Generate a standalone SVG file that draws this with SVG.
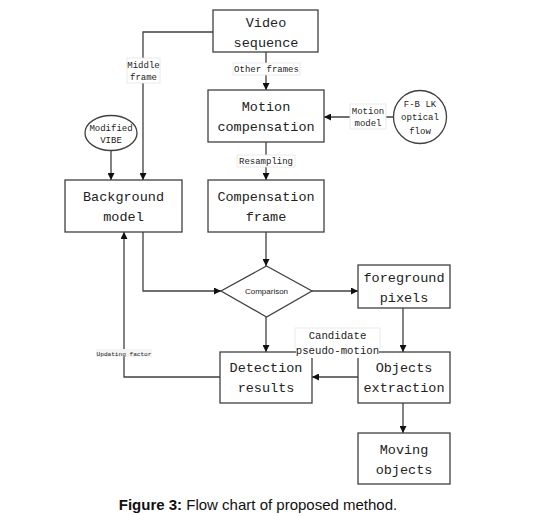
<svg xmlns="http://www.w3.org/2000/svg" width="533" height="516" viewBox="0 0 533 516">
<defs>
<style>
.box{fill:#fff;stroke:#404040;stroke-width:1.3}
.ln{fill:none;stroke:#404040;stroke-width:1.3}
.t{font-family:"Liberation Mono",monospace;font-size:13.5px;fill:#222;text-anchor:middle}
.s{font-family:"Liberation Mono",monospace;font-size:9px;fill:#222;text-anchor:middle}
.lb{fill:#fff;stroke:#e4e4e4;stroke-width:0.8}
</style>
<marker id="ah" viewBox="0 0 10 10" refX="10" refY="5" markerWidth="7" markerHeight="7" markerUnits="userSpaceOnUse" orient="auto">
<path d="M0,0 L10,5 L0,10 z" fill="#111"/>
</marker>
</defs>
<rect width="533" height="516" fill="#fff"/>
<g id="connectors">
<path class="ln" d="M213,32 H143 V180" marker-end="url(#ah)"/>
<path class="ln" d="M266,52 V90" marker-end="url(#ah)"/>
<path class="ln" d="M393,117 H324" marker-end="url(#ah)"/>
<path class="ln" d="M111,151 V180" marker-end="url(#ah)"/>
<path class="ln" d="M266,142 V180" marker-end="url(#ah)"/>
<path class="ln" d="M143,232 V291 H221" marker-end="url(#ah)"/>
<path class="ln" d="M266,232 V266" marker-end="url(#ah)"/>
<path class="ln" d="M312,291 H358" marker-end="url(#ah)"/>
<path class="ln" d="M266,317 V352" marker-end="url(#ah)"/>
<path class="ln" d="M403,308 V352" marker-end="url(#ah)"/>
<path class="ln" d="M358,377 H312" marker-end="url(#ah)"/>
<path class="ln" d="M220,377 H124 V232" marker-end="url(#ah)"/>
<path class="ln" d="M403,403 V433" marker-end="url(#ah)"/>
<rect class="lb" x="127" y="58" width="33" height="25"/>
<text class="s" x="143.5" y="68">Middle</text>
<text class="s" x="143.5" y="80">frame</text>
<rect class="lb" x="233" y="63" width="67" height="12"/>
<text class="s" x="266.5" y="72">Other frames</text>
<rect class="lb" x="237" y="155" width="58" height="12"/>
<text class="s" x="266" y="164">Resampling</text>
<rect class="lb" x="350" y="104" width="36" height="25"/>
<text class="s" x="368" y="114">Motion</text>
<text class="s" x="368" y="126">model</text>
<rect x="96" y="349" width="56" height="8" fill="#f4f4f4"/>
<text x="124" y="355.5" font-family="Liberation Mono,monospace" font-size="6.1px" text-anchor="middle" fill="#222">Updating factor</text>
</g>
<g id="video"><rect class="box" x="213" y="10" width="105" height="42"/><text class="t" x="266" y="27">Video</text><text class="t" x="266" y="47">sequence</text></g>
<g id="motion"><rect class="box" x="208" y="90" width="116" height="52"/><text class="t" x="266" y="111">Motion</text><text class="t" x="266" y="131">compensation</text></g>
<g id="fblk"><circle class="box" cx="420" cy="117" r="26.5"/><text class="s" x="420" y="106.5">F-B LK</text><text class="s" x="420" y="120">optical</text><text class="s" x="420" y="133.5">flow</text></g>
<g id="vibe"><ellipse class="box" cx="111" cy="133" rx="26" ry="17.5"/><text class="s" x="111" y="131">Modified</text><text class="s" x="111" y="142.5">VIBE</text></g>
<g id="bg"><rect class="box" x="65" y="180" width="117" height="52"/><text class="t" x="123.5" y="201">Background</text><text class="t" x="123.5" y="221">model</text></g>
<g id="compframe"><rect class="box" x="208" y="180" width="116" height="52"/><text class="t" x="266" y="201">Compensation</text><text class="t" x="266" y="221">frame</text></g>
<g id="comparison"><polygon class="box" points="266.5,266 312,291 266.5,317 221,291"/><text x="266.5" y="294" font-family="Liberation Sans,Arial,sans-serif" font-size="8px" text-anchor="middle" fill="#222">Comparison</text></g>
<g id="fg"><rect class="box" x="358" y="265" width="92" height="43"/><text class="t" x="404" y="282">foreground</text><text class="t" x="404" y="302">pixels</text></g>
<g id="detect"><rect class="box" x="220" y="352" width="92" height="51"/><text class="t" x="266" y="372">Detection</text><text class="t" x="266" y="392">results</text></g>
<g id="objex"><rect class="box" x="358" y="352" width="92" height="51"/><text class="t" x="404" y="372">Objects</text><text class="t" x="404" y="392">extraction</text></g>
<g id="moving"><rect class="box" x="358" y="433" width="92" height="51"/><text class="t" x="404" y="454">Moving</text><text class="t" x="404" y="474">objects</text></g>
<g id="candidate"><rect class="lb" x="295" y="328" width="85" height="20"/><rect x="296" y="347" width="83" height="11" fill="#fff"/><text x="337.5" y="339" font-family="Liberation Mono,monospace" font-size="10.7px" text-anchor="middle" fill="#222">Candidate</text><text x="337.5" y="354" font-family="Liberation Mono,monospace" font-size="10.7px" text-anchor="middle" fill="#222">pseudo-motion</text></g>
<text x="258" y="510" font-family="Liberation Sans,Arial,sans-serif" font-size="15px" text-anchor="middle" fill="#111"><tspan font-weight="bold">Figure 3:</tspan> Flow chart of proposed method.</text>
</svg>
